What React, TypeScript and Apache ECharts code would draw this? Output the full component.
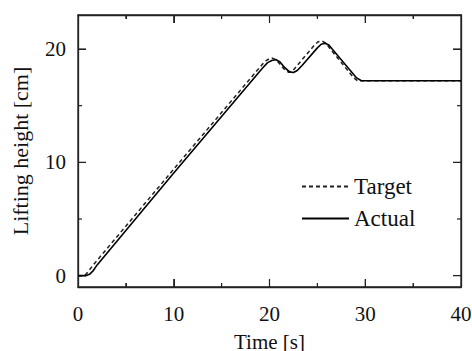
import React, { useEffect, useRef } from "react";
import * as echarts from "echarts";

const targetData: [number, number][] = [
  [0, 0], [0.5, 0], [0.8, 0.1], [1.1, 0.4], [1.5, 0.85],
  [10, 9.4], [19.2, 18.6], [19.6, 18.95], [20.0, 19.15], [20.3, 19.2],
  [20.7, 19.05], [21.1, 18.65], [21.6, 18.15], [22.0, 17.95], [22.4, 18.05],
  [22.9, 18.55], [24.7, 20.35], [25.1, 20.65], [25.5, 20.7], [25.9, 20.5],
  [26.4, 19.95], [28.8, 17.45], [29.2, 17.2], [40, 17.2],
];

const actualData: [number, number][] = [
  [0, 0], [0.8, 0], [1.2, 0.12], [1.6, 0.45], [2.0, 0.95],
  [10, 9.05], [19.3, 18.35], [19.8, 18.8], [20.3, 19.0], [20.7, 19.05],
  [21.1, 18.85], [21.6, 18.35], [22.1, 17.98], [22.5, 17.92], [22.9, 18.1],
  [23.4, 18.55], [25.0, 20.1], [25.4, 20.42], [25.8, 20.5], [26.2, 20.35],
  [26.7, 19.85], [29.1, 17.45], [29.6, 17.2], [40, 17.2],
];

const seriesNames = ["Target", "Actual"];
const xName = "Time [s]";
const yName = "Lifting height [cm]";
const yLabelValues = [0, 10, 20];
const xMajorTicks = [10, 20, 30];
const xMinorTicks = [5, 15, 25, 35];
const yMajorTicks = [0, 10, 20];
const yMinorTicks = [5, 15];

const FONT = "Liberation Serif";
const INK = "#111";
const LINE = "#222";
const MAJOR_LEN = 8;
const MINOR_LEN = 4;

export default function App() {
  const ref = useRef<HTMLDivElement>(null);
  useEffect(() => {
    if (!ref.current) return;
    const chart = echarts.init(ref.current, null, { renderer: "svg" });

    const xTickRows = [
      ...xMajorTicks.map((v) => [v, 0, MAJOR_LEN]),
      ...xMinorTicks.map((v) => [v, 0, MINOR_LEN]),
    ];
    const yTickRows = [
      ...yMajorTicks.map((v) => [0, v, MAJOR_LEN]),
      ...yMinorTicks.map((v) => [0, v, MINOR_LEN]),
    ];

    const hiddenLabel = { show: true, color: "rgba(0,0,0,0)", fontSize: 10 };

    chart.setOption({
      animation: false,
      grid: {
        left: 78, right: 11, top: 15, bottom: 64,
        outerBoundsMode: "none",
        show: true, borderColor: LINE, borderWidth: 1.3, backgroundColor: "rgba(0,0,0,0)",
      },
      legend: {
        orient: "vertical",
        left: 296,
        top: 170,
        itemWidth: 47,
        itemHeight: 14,
        itemGap: 9,
        data: seriesNames,
        itemStyle: { opacity: 0 },
        textStyle: { fontFamily: FONT, fontSize: 23, color: INK },
      },
      xAxis: [
        {
          type: "value", min: 0, max: 40, interval: 10, position: "bottom",
          axisLine: { show: true, onZero: false, lineStyle: { color: LINE, width: 1.3 } },
          axisTick: { show: true, inside: true, length: MAJOR_LEN },
          minorTick: { show: true, splitNumber: 2, length: MINOR_LEN, lineStyle: { color: LINE } },
          axisLabel: { show: true, fontFamily: FONT, fontSize: 21, color: INK, margin: 16 },
          splitLine: { show: true, lineStyle: { color: "rgba(0,0,0,0)" } },
          name: xName, nameLocation: "middle", nameGap: 44,
          nameTextStyle: { fontFamily: FONT, fontSize: 21, color: INK },
        },
        {
          type: "value", min: 0, max: 40, interval: 10, position: "top",
          axisLine: { show: true, onZero: false, lineStyle: { color: LINE, width: 1.3 } },
          axisTick: { show: true, inside: true, length: MAJOR_LEN },
          minorTick: { show: true, splitNumber: 2, length: MINOR_LEN, lineStyle: { color: LINE } },
          axisLabel: hiddenLabel,
          splitLine: { show: true, lineStyle: { color: "rgba(0,0,0,0)" } },
        },
      ],
      yAxis: [
        {
          type: "value", min: -1, max: 23, minInterval: 10, maxInterval: 10, position: "left",
          axisLine: { show: true, onZero: false, lineStyle: { color: LINE, width: 1.3 } },
          axisTick: { show: true, inside: true, length: MAJOR_LEN },
          axisLabel: {
            show: true, fontFamily: FONT, fontSize: 21, color: INK, margin: 12,
            showMinLabel: false, showMaxLabel: false,
            formatter: (v: number) => (yLabelValues.indexOf(v) >= 0 ? String(v) : ""),
          },
          splitLine: { show: true, lineStyle: { color: "rgba(0,0,0,0)" } },
          name: yName, nameLocation: "middle", nameGap: 47,
          nameTextStyle: { fontFamily: FONT, fontSize: 22, color: INK },
        },
        {
          type: "value", min: -1, max: 23, minInterval: 10, maxInterval: 10, position: "right",
          axisLine: { show: true, onZero: false, lineStyle: { color: LINE, width: 1.3 } },
          axisTick: { show: true, inside: true, length: MAJOR_LEN },
          axisLabel: hiddenLabel,
          splitLine: { show: true, lineStyle: { color: "rgba(0,0,0,0)" } },
        },
      ],
      series: [
        {
          name: seriesNames[0], type: "line", data: targetData, symbol: "none",
          lineStyle: { color: LINE, width: 1.5, type: [4, 3] },
          itemStyle: { color: LINE },
        },
        {
          name: seriesNames[1], type: "line", data: actualData, symbol: "none",
          lineStyle: { color: "#000", width: 1.6 },
          itemStyle: { color: "#000" },
        },
        {
          name: "xticks", type: "custom", data: xTickRows, silent: true,
          renderItem: (params: any, api: any) => {
            const cs = params.coordSys;
            const px = api.coord([api.value(0), 0])[0];
            const len = api.value(2);
            const bottom = cs.y + cs.height;
            return {
              type: "group",
              children: [
                { type: "rect", shape: { x: px - 0.6, y: bottom - len, width: 1.2, height: len }, style: { fill: LINE } },
                { type: "rect", shape: { x: px - 0.6, y: cs.y, width: 1.2, height: len }, style: { fill: LINE } },
              ],
            };
          },
        },
        {
          name: "yticks", type: "custom", data: yTickRows, silent: true,
          renderItem: (params: any, api: any) => {
            const cs = params.coordSys;
            const py = api.coord([0, api.value(1)])[1];
            const len = api.value(2);
            const right = cs.x + cs.width;
            return {
              type: "group",
              children: [
                { type: "rect", shape: { x: cs.x, y: py - 0.6, width: len, height: 1.2 }, style: { fill: LINE } },
                { type: "rect", shape: { x: right - len, y: py - 0.6, width: len, height: 1.2 }, style: { fill: LINE } },
              ],
            };
          },
        },
      ],
    });
    return () => chart.dispose();
  }, []);
  return <div ref={ref} style={{ width: 472, height: 351, position: "absolute", left: 0, top: 0 }} />;
}
